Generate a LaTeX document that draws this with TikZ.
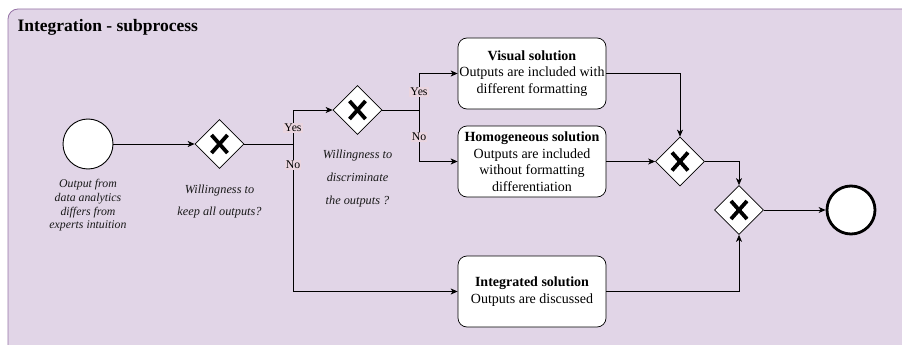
\documentclass[tikz,border=0pt]{standalone}
\usepackage{fontspec}
\setmainfont{Liberation Serif}
\usetikzlibrary{shapes.geometric,arrows.meta}
\definecolor{poolfill}{HTML}{E1D5E7}
\definecolor{pooldraw}{HTML}{9673A6}
\definecolor{lblfill}{HTML}{EAD5DF}
\tikzset{
  event/.style={circle,draw=black,fill=white,line width=0.9pt,minimum size=50pt,inner sep=0pt},
  endevent/.style={event,line width=2.8pt,minimum size=48pt},
  gate/.style={diamond,draw=black,fill=white,line width=0.7pt,minimum width=49pt,minimum height=49pt,inner sep=0pt,
    path picture={\draw[line width=3.8pt,black]
      ([shift={(-8pt,-9pt)}]path picture bounding box.center) -- ([shift={(8pt,9pt)}]path picture bounding box.center)
      ([shift={(-8pt,9pt)}]path picture bounding box.center) -- ([shift={(8pt,-9pt)}]path picture bounding box.center);}},
  task/.style={draw=black,fill=white,rounded corners=9pt,line width=0.7pt,minimum width=148pt,minimum height=71pt,
    align=center,inner sep=1pt,font=\fontsize{14}{16.5}\selectfont},
  flow/.style={draw=black,line width=0.8pt,-{Stealth[length=7pt,width=6pt,inset=2pt]}},
  seg/.style={draw=black,line width=0.8pt},
  yn/.style={fill=lblfill,inner sep=1pt,font=\fontsize{11.8}{12}\selectfont},
  note/.style={align=center,font=\itshape\fontsize{11.8}{13.7}\selectfont,text=black!90},
}
\begin{document}
\begin{tikzpicture}[x=1pt,y=-1pt]
\useasboundingbox (0,0) rectangle (902,345);
% pool
\draw[fill=poolfill,draw=pooldraw,line width=0.8pt,rounded corners=10pt] (8,9) rectangle (930,360);
\node[anchor=base west,font=\bfseries\fontsize{17.5}{20}\selectfont] (title) at (14,32) {Integration - subprocess};

% flow objects
\node[event] (start) at (88,144) {};
\node[gate] (g1) at (219.5,144) {};
\node[gate] (g2) at (357.5,110) {};
\node[task] (vis) at (532,73.5) {\textbf{Visual solution}\\Outputs are included with\\different formatting};
\node[task] (hom) at (532,161.5) {\textbf{Homogeneous solution}\\Outputs are included\\without formatting\\differentiation};
\node[task] (int) at (532,291.5) {\textbf{Integrated solution}\\Outputs are discussed};
\node[gate] (g3) at (680,161.5) {};
\node[gate] (g4) at (739,210) {};
\node[endevent] (end) at (851,210) {};

% annotations
\node[note] (startlbl) at (88,205.5) {Output from\\data analytics\\differs from\\experts intuition};
\node[note,font=\itshape\fontsize{12.3}{22}\selectfont] (g1lbl) at (219.5,202) {Willingness to\\keep all outputs?};
\node[note,font=\itshape\fontsize{12.3}{23}\selectfont] (g2lbl) at (357.5,179) {Willingness to\\discriminate\\the outputs ?};

% junctions
\coordinate (j1) at (293,144);
\coordinate (j2) at (419,110);

% sequence flows
\draw[flow] (start) -- (g1);
\draw[seg] (g1.east) -- (j1);
\draw[flow] (j1) |- (g2.west);
\draw[flow] (j1) |- (int.west);
\draw[seg] (g2.east) -- (j2);
\draw[flow] (j2) |- (vis.west);
\draw[flow] (j2) |- (hom.west);
\draw[flow] (vis.east) -| (g3.north);
\draw[flow] (hom.east) -- (g3.west);
\draw[flow] (g3.east) -| (g4.north);
\draw[flow] (int.east) -| (g4.south);
\draw[flow] (g4.east) -- (end.west);

% branch labels
\node[yn] (y1) at (293,128) {Yes};
\node[yn] (n1) at (293,165) {No};
\node[yn] (y2) at (419,92) {Yes};
\node[yn] (n2) at (419,137) {No};
\end{tikzpicture}
\end{document}
